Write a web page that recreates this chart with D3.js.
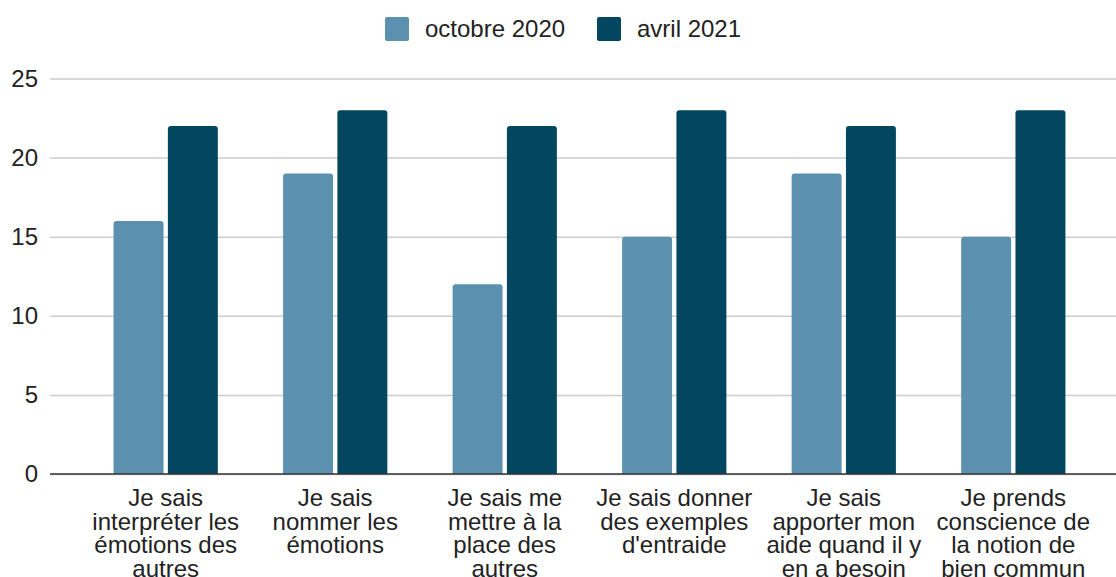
<!DOCTYPE html>
<html>
<head>
<meta charset="utf-8">
<script src="https://cdn.jsdelivr.net/npm/d3@7"></script>
<style>
  html, body { margin: 0; padding: 0; background: #fff; }
  svg { display: block; font-family: "Liberation Sans", Arial, sans-serif; }
</style>
</head>
<body>
<div id="chart"></div>
<script>
/* ===== Data ===== */

const categories = [
  "Je sais\ninterpréter les\némotions des\nautres",
  "Je sais\nnommer les\némotions",
  "Je sais me\nmettre à la\nplace des\nautres",
  "Je sais donner\ndes exemples\nd'entraide",
  "Je sais\napporter mon\naide quand il y\nen a besoin",
  "Je prends\nconscience de\nla notion de\nbien commun"
];
const seriesNames = ["octobre 2020", "avril 2021"];
const octobre2020 = [16, 19, 12, 15, 19, 15];
const avril2021 = [22, 23, 22, 23, 22, 23];
const yTicks = [0, 5, 10, 15, 20, 25];

const colors = ["#5b91ae", "#02465f"];
const series = [octobre2020, avril2021];

/* ===== Setup ===== */

const W = 1116, H = 577;
const svg = d3.select("#chart").append("svg")
  .attr("width", W)
  .attr("height", H);

const x = d3.scaleBand()
  .domain(categories)
  .range([50, 1129])
  .paddingInner(0.385)
  .paddingOuter(0.375);

const xSub = d3.scaleBand()
  .domain(seriesNames)
  .range([0, x.bandwidth()])
  .paddingInner(0.08);

const y = d3.scaleLinear()
  .domain([0, 25])
  .range([474, 78.5]);

/* ===== Grid + y axis ===== */

const yAxis = svg.append("g")
  .attr("transform", "translate(50,0)")
  .call(d3.axisLeft(y).tickValues(yTicks).tickSize(-(W - 50)).tickPadding(12));

yAxis.select(".domain").remove();
yAxis.selectAll(".tick line")
  .attr("stroke", "#cccccc")
  .attr("stroke-width", 1.5);
yAxis.selectAll(".tick text")
  .attr("fill", "#222")
  .style("font-size", "24px");

/* ===== Bars ===== */

const groups = svg.selectAll(".grp")
  .data(categories)
  .enter().append("g")
  .attr("class", "grp")
  .attr("transform", d => `translate(${x(d)},0)`);

groups.selectAll("path")
  .data((d, i) => seriesNames.map((s, j) => ({ s, v: series[j][i], c: colors[j] })))
  .enter().append("path")
  .attr("fill", d => d.c)
  .attr("d", d => {
    const x0 = xSub(d.s), w = xSub.bandwidth();
    const top = y(d.v), bot = y(0), r = 3;
    return `M${x0},${bot} V${top + r} Q${x0},${top} ${x0 + r},${top} H${x0 + w - r} Q${x0 + w},${top} ${x0 + w},${top + r} V${bot} Z`;
  });

/* ===== Baseline ===== */

svg.append("line")
  .attr("x1", 50).attr("x2", W)
  .attr("y1", y(0)).attr("y2", y(0))
  .attr("stroke", "#333")
  .attr("stroke-width", 1.5);

/* ===== X labels ===== */

const labels = svg.append("g").selectAll("text")
  .data(categories)
  .enter().append("text")
  .attr("text-anchor", "middle")
  .attr("fill", "#222")
  .style("font-size", "24px")
  .attr("x", d => x(d) + x.bandwidth() / 2)
  .attr("y", 506);

labels.selectAll("tspan")
  .data(d => d.split("\n"))
  .enter().append("tspan")
  .attr("x", function () { return d3.select(this.parentNode).attr("x"); })
  .attr("dy", (d, i) => i === 0 ? 0 : 23.5)
  .text(d => d);

/* ===== Legend ===== */

const legendX = [385, 597];
const legend = svg.append("g").selectAll("g")
  .data(seriesNames)
  .enter().append("g")
  .attr("transform", (d, i) => `translate(${legendX[i]},17)`);

legend.append("rect")
  .attr("width", 24).attr("height", 24)
  .attr("rx", 2)
  .attr("fill", (d, i) => colors[i]);

legend.append("text")
  .attr("x", 40)
  .attr("y", 19.5)
  .attr("fill", "#222")
  .style("font-size", "24px")
  .text(d => d);
</script>
</body>
</html>
